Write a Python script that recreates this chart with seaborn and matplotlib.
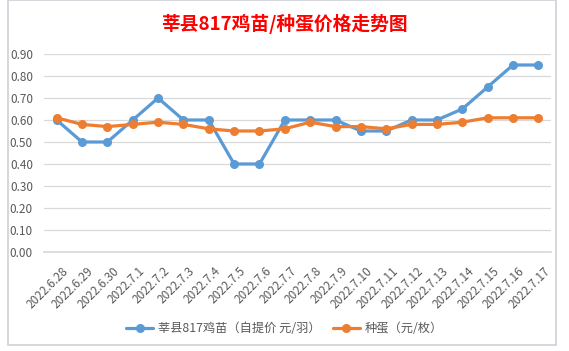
import pandas as pd
import matplotlib
matplotlib.use('Agg')
import matplotlib.pyplot as plt
import matplotlib.transforms as mtrans
import seaborn as sns
from matplotlib.patches import Rectangle

# ==================== data ====================
dates = ['2022.6.28', '2022.6.29', '2022.6.30', '2022.7.1', '2022.7.2', '2022.7.3',
         '2022.7.4', '2022.7.5', '2022.7.6', '2022.7.7', '2022.7.8', '2022.7.9',
         '2022.7.10', '2022.7.11', '2022.7.12', '2022.7.13', '2022.7.14', '2022.7.15',
         '2022.7.16', '2022.7.17']
chick_price = [0.60, 0.50, 0.50, 0.60, 0.70, 0.60, 0.60, 0.40, 0.40, 0.60,
               0.60, 0.60, 0.55, 0.55, 0.60, 0.60, 0.65, 0.75, 0.85, 0.85]
egg_price = [0.61, 0.58, 0.57, 0.58, 0.59, 0.58, 0.56, 0.55, 0.55, 0.56,
             0.59, 0.57, 0.57, 0.56, 0.58, 0.58, 0.59, 0.61, 0.61, 0.61]
series_names = ['莘县817鸡苗（自提价 元/羽）', '种蛋（元/枚）']
yticks = [0.0, 0.1, 0.2, 0.3, 0.4, 0.5, 0.6, 0.7, 0.8, 0.9]

sns.set_theme(style='white')
plt.rcParams['font.family'] = ['Noto Sans CJK SC', 'DejaVu Sans']
plt.rcParams['axes.unicode_minus'] = False

df = pd.DataFrame({
    'idx': list(range(len(dates))) * 2,
    'price': chick_price + egg_price,
    'series': [series_names[0]] * len(dates) + [series_names[1]] * len(dates),
})

fig = plt.figure(figsize=(5.69, 3.51), dpi=100)
fig.patch.set_facecolor('white')
# chart area border like a spreadsheet chart object
fig.patches.append(Rectangle((8 / 569, 6 / 351), 548 / 569, 345 / 351, transform=fig.transFigure,
                             fill=False, edgecolor='#D0D0D8', linewidth=1.2))

ax = fig.add_axes([44 / 569, 1 - 252 / 351, 507 / 569, 198 / 351])

sns.lineplot(data=df, x='idx', y='price', hue='series', hue_order=series_names,
             palette=['#5B9BD5', '#ED7D31'], marker='o', markersize=6.5,
             markeredgewidth=0, linewidth=2.3, ax=ax)

ax.set_xlim(-0.5, len(dates) - 0.5)
ax.set_ylim(0, 0.9)
ax.set_yticks(yticks)
ax.set_yticklabels([f'{v:.2f}' for v in yticks])
ax.set_xticks(range(len(dates)))
ax.set_xticklabels(dates, rotation=45, ha='right', rotation_mode='anchor')
ax.tick_params(axis='both', length=0, labelsize=8.5, colors='#595959')
ax.tick_params(axis='y', pad=8)
ax.tick_params(axis='x', pad=4)
# shift date labels a little right/down like the original
offset = mtrans.ScaledTranslation(0.05, -0.07, fig.dpi_scale_trans)
for lab in ax.get_xticklabels():
    lab.set_transform(lab.get_transform() + offset)
ax.grid(axis='y', color='#D9D9D9', linewidth=0.9)
ax.set_axisbelow(True)
for s in ['top', 'right', 'left']:
    ax.spines[s].set_visible(False)
ax.spines['bottom'].set_color('#D9D9D9')
ax.set_xlabel('')
ax.set_ylabel('')

fig.text(0.5, 1 - 24 / 351, '莘县817鸡苗/种蛋价格走势图', ha='center', va='center',
         color='#FF0000', fontsize=13.5, fontweight='bold')

handles, labels = ax.get_legend_handles_labels()
ax.legend(handles, labels, loc='center', bbox_to_anchor=(0.5, 1 - 329 / 351),
          bbox_transform=fig.transFigure, ncol=2, frameon=False, fontsize=8.8,
          labelcolor='#595959', handlelength=2.2, columnspacing=1.0, handletextpad=0.4)

plt.savefig('out.png', dpi=100)
plt.close()
